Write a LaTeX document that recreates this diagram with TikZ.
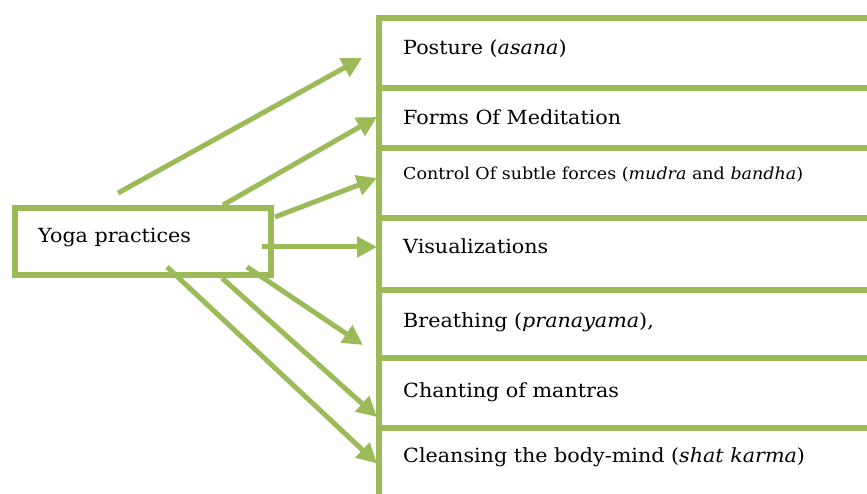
\documentclass[tikz,border=0pt]{standalone}
\usepackage{fontspec}
\setmainfont{DejaVu Serif}[FakeStretch=1.06]
\usepackage{tikz}
\usetikzlibrary{arrows.meta}

\definecolor{yogagreen}{HTML}{9BBB59}

\tikzset{
  box/.style={draw=yogagreen, line width=6pt, anchor=north west, minimum width=520pt, inner sep=0pt, outer sep=0pt},
  arr/.style={yogagreen, line width=5pt, -{Triangle[length=20pt, width=20pt]}},
  lbl/.style={anchor=base west, inner sep=0pt, font=\fontsize{19.5}{22}\selectfont},
}

\begin{document}
\begin{tikzpicture}[x=1pt, y=-1pt]

\useasboundingbox (0,0) rectangle (867,494);
\clip (0,0) rectangle (867,494);

% the list of practices
\node[box, minimum height=70pt] (b1) at (379,18) {};
\node[box, minimum height=60pt] (b2) at (379,88) {};
\node[box, minimum height=70pt] (b3) at (379,148) {};
\node[box, minimum height=72pt] (b4) at (379,218) {};
\node[box, minimum height=68pt] (b5) at (379,290) {};
\node[box, minimum height=70pt] (b6) at (379,358) {};
\node[box, minimum height=69pt] (b7) at (379,428) {};

\node[lbl] (t1) at (403,55) {Posture (\textit{asana})};
\node[lbl] (t2) at (403,125) {Forms Of Meditation};
\node[lbl, font=\fontsize{16.5}{19}\selectfont] (t3) at (403,180) {Control Of subtle forces (\textit{mudra} and \textit{bandha})};
\node[lbl] (t4) at (403,254) {Visualizations};
\node[lbl] (t5) at (403,327) {Breathing (\textit{pranayama}),};
\node[lbl] (t6) at (403,397) {Chanting of mantras};
\node[lbl] (t7) at (403,462) {Cleansing the body-mind (\textit{shat karma})};

% yoga box
\node[box, minimum width=256pt, minimum height=67pt] (yoga) at (15,208) {};
\node[lbl] (yt) at (38,243) {Yoga practices};

% arrow tails
\coordinate (s1) at (118,193);
\coordinate (s2) at (223,205);
\coordinate (s3) at (275,217);
\coordinate (s4) at (262,247);
\coordinate (s5) at (247,267);
\coordinate (s6) at (222,278);
\coordinate (s7) at (167,267);

\draw[arr] (s1) -- ([shift={(-17,5)}]b1.west);
\draw[arr] (s2) -- ([shift={(-2,-1)}]b2.west);
\draw[arr] (s3) -- ([shift={(-2,-5)}]b3.west);
\draw[arr] (s4) -- ([shift={(-2,-7)}]b4.west);
\draw[arr] (s5) -- ([shift={(-16,21)}]b5.west);
\draw[arr] (s6) -- ([shift={(-2,24)}]b6.west);
\draw[arr] (s7) -- ([shift={(-2,1)}]b7.west);

\end{tikzpicture}
\end{document}
